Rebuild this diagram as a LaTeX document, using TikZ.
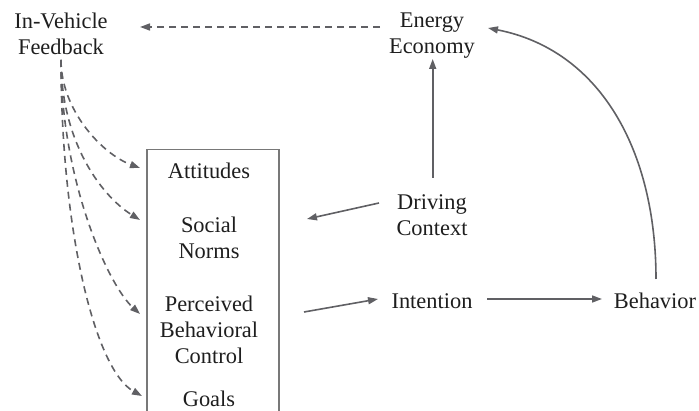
\documentclass[tikz,border=0pt]{standalone}
\usepackage{fontspec}
\setmainfont{Liberation Serif}
\usetikzlibrary{arrows.meta,calc}
\definecolor{linecol}{RGB}{96,96,100}
\definecolor{boxcol}{RGB}{120,120,120}
\definecolor{txtcol}{RGB}{30,30,30}
\tikzset{
  lbl/.style={anchor=base, align=center, inner sep=0pt, text=txtcol,
    font=\fontsize{22.4}{26}\selectfont},
  solidarrow/.style={draw=linecol, line width=1.6pt,
    -{Triangle[length=10pt,width=7pt]}, fill=none},
  dasharrow/.style={solidarrow, dash pattern=on 7pt off 5pt},
}
\begin{document}
\begin{tikzpicture}[x=1pt,y=-1pt]
\useasboundingbox (0,0) rectangle (699,411);
\clip (0,0) rectangle (699,411);
% box
\node[draw=boxcol, line width=1.5pt, minimum width=132pt, minimum height=300pt,
  anchor=north west, inner sep=0pt] (box) at (146,149) {};
% text nodes (base = baseline of the last line)
\node[lbl] (fb) at (61,54.3) {In-Vehicle\\Feedback};
\node[lbl] (ee) at (432,54) {Energy\\Economy};
\node[lbl] (dc) at (432,236) {Driving\\Context};
\node[lbl] (int) at (432,309) {Intention};
\node[lbl] (beh) at (655,309) {Behavior};
\node[lbl] (att) at (209,179) {Attitudes};
\node[lbl] (sn) at (209,259) {Social\\Norms};
\node[lbl] (pbc) at (209,364) {Perceived\\Behavioral\\Control};
\node[lbl] (goals) at (209,407) {Goals};
% connector end points
\coordinate (fbS) at (61,60);
\coordinate (fbE) at (140,27);
\coordinate (eeW) at (380,27);
\coordinate (eeS) at (432.7,59);
\coordinate (eeE) at (488,28);
\coordinate (dcN) at (432.7,178);
\coordinate (dcW) at (379,203);
\coordinate (snE) at (307,219);
\coordinate (pbcE) at (304,312);
\coordinate (intW) at (378,299);
\coordinate (intE) at (487,299);
\coordinate (behW) at (602,299);
\coordinate (behN) at (656,279);
\coordinate (attT) at (140,168);
\coordinate (snT) at (140,220);
\coordinate (pbcT) at (140,314);
\coordinate (goT) at (142,396);
% arrows
\draw[dasharrow] (eeW) -- (fbE);
\draw[solidarrow] (dcN) -- (eeS);
\draw[solidarrow] (behN) .. controls (656,150) and (600,50) .. (eeE);
\draw[solidarrow] (dcW) -- (snE);
\draw[solidarrow] (pbcE) -- (intW);
\draw[solidarrow] (intE) -- (behW);
\draw[dasharrow] (fbS) .. controls (61,110) and (102,154) .. (attT);
\draw[dasharrow] (fbS) .. controls (61,140) and (100,195) .. (snT);
\draw[dasharrow] (fbS) .. controls (61,180) and (108,285) .. (pbcT);
\draw[dasharrow] (fbS) .. controls (61,230) and (95,370) .. (goT);
\end{tikzpicture}
\end{document}
